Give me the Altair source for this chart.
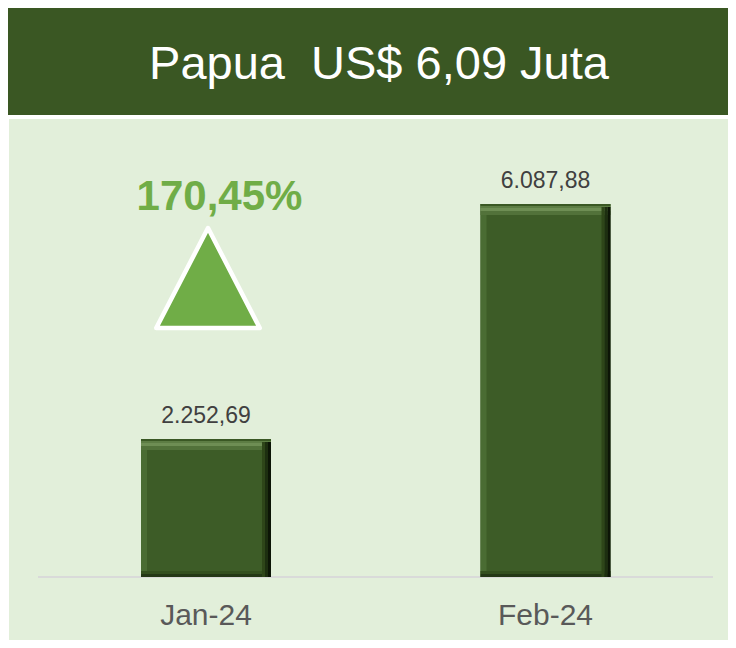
import altair as alt
import pandas as pd

# ---- data ----
months = ["Jan-24", "Feb-24"]
values = [2252.69, 6087.88]
value_labels = ["2.252,69", "6.087,88"]
title_text = "Papua\u00a0 US$ 6,09 Juta"
change_text = "170,45%"

df = pd.DataFrame({"month": months, "value": values, "label": value_labels, "base": [0, 0]})

W, H = 720, 632
FONT = "Liberation Sans"

x_enc = alt.X("month:N", sort=None,
              scale=alt.Scale(type="point", domain=months, range=[198, 537.5], padding=0),
              axis=None)
# y: 0 sits at pixel 569, 6087.88 at pixel 196 (chart coordinates)
y_scale = alt.Scale(domain=[-1028.3, 9286.8], nice=False, zero=False)
y_val = alt.Y("value:Q", scale=y_scale, axis=None)
y_base = alt.Y("base:Q", scale=y_scale, axis=None)

one = pd.DataFrame({"a": [0]})

header = alt.Chart(one).mark_rect(color="#3a5723").encode(
    x=alt.value(0), x2=alt.value(W), y=alt.value(-1), y2=alt.value(107))
panel = alt.Chart(one).mark_rect(color="#e2efda").encode(
    x=alt.value(1), x2=alt.value(W), y=alt.value(111), y2=alt.value(H))

base = alt.Chart(df)

baseline = base.mark_rule(color="#d9d9d9", strokeWidth=1.5).encode(
    x=alt.value(30), x2=alt.value(705), y=y_base)

layers = [header, panel, baseline]

# main bar body
layers.append(base.mark_bar(width=130, color="#3d5c27").encode(
    x=x_enc, y=y_val, y2="base:Q"))
# left bevel
layers.append(base.mark_bar(width=6, xOffset=-62, color="#4a6c33").encode(
    x=x_enc, y=y_val, y2="base:Q"))
# bottom bevel strips
for off, h, col in [(-6, 3, "#34501f"), (-3, 3, "#243816")]:
    layers.append(base.mark_bar(width=130, yOffset=off, y2Offset=off + h, color=col).encode(
        x=x_enc, y=y_base, y2="base:Q"))
# top bevel strips
for off, h, col in [(0, 2, "#3a5824"), (2, 2, "#5d7d44"), (4, 3, "#6e8e54"), (7, 4, "#52723a")]:
    layers.append(base.mark_bar(width=130, yOffset=off, y2Offset=off + h, color=col).encode(
        x=x_enc, y=y_val, y2="value:Q"))
# right bevel strips
for xo, col in [(57.5, "#2e4619"), (60.5, "#1d2f10"), (63.5, "#0c1506")]:
    layers.append(base.mark_bar(width=3, xOffset=xo, yOffset=3, color=col).encode(
        x=x_enc, y=y_val, y2="base:Q"))

val_labels = base.mark_text(dy=-16, baseline="alphabetic", fontSize=23,
                            font=FONT, color="#404040").encode(
    x=x_enc, y=y_val, text="label:N")

axis_labels = base.mark_text(dy=48, baseline="alphabetic", fontSize=30,
                             font=FONT, color="#595959").encode(
    x=x_enc, y=y_base, text="month:N")

title = alt.Chart(pd.DataFrame({"t": [title_text]})).mark_text(
    fontSize=47, font=FONT, color="white", baseline="alphabetic", align="center").encode(
    x=alt.value(371), y=alt.value(71), text="t:N")

ann = pd.DataFrame({"t": [change_text], "month": ["Jan-24"]})
pct = alt.Chart(ann).mark_text(
    fontSize=42, font=FONT, fontWeight="bold", color="#70ad47",
    baseline="alphabetic", align="center", xOffset=13.5).encode(
    x=x_enc, y=alt.value(202), text="t:N")

tri = alt.Chart(ann).mark_point(
    shape="M0,-1L1.035,1L-1.035,1Z", size=10000, filled=True,
    fill="#70ad47", stroke="white", strokeWidth=4.5, strokeJoin="round",
    opacity=1, xOffset=2).encode(
    x=x_enc, y=alt.value(270))

layers += [val_labels, axis_labels, title, pct, tri]

chart = alt.layer(*layers).properties(
    width=W, height=H,
    autosize=alt.AutoSizeParams(type="none"),
    padding=0, background="white"
).configure_view(stroke=None)

chart.save("out.html", embed_options={"renderer": "svg", "actions": False})
